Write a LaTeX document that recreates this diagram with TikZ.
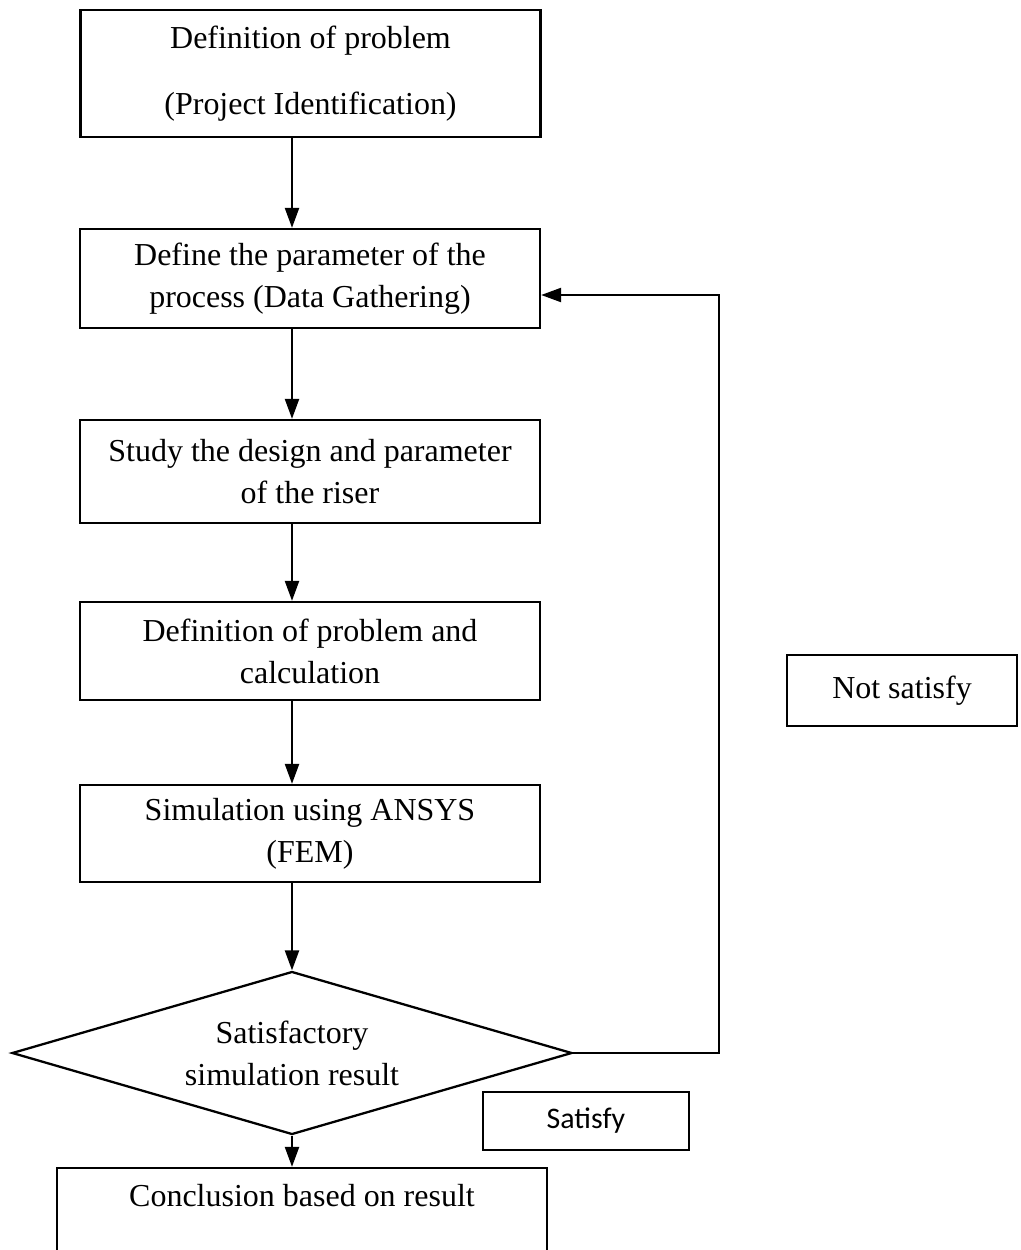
\documentclass[tikz,border=0pt]{standalone}
\usepackage{fontspec}
\setmainfont{Liberation Serif}
\newfontfamily\tagfont{Carlito}
\usetikzlibrary{arrows.meta,shapes.geometric}

\begin{document}
\begin{tikzpicture}[
  font=\fontsize{18.2}{24}\selectfont,
  stepbox/.style={draw,line width=1.3pt,minimum width=9.2cm,align=center,inner sep=2pt},
  choice/.style={draw,diamond,aspect=3.4,line width=1.3pt,minimum width=11.2cm,
                 minimum height=3.26cm,inner sep=0pt,align=center},
  tag/.style={draw,line width=1.3pt,align=center},
  arr/.style={-{Triangle[length=0.4cm,width=0.28cm]},line width=1.3pt}]
  \useasboundingbox (0,0) rectangle (20.42,-25);
  % main column
  \node[stepbox,minimum height=2.54cm] (b1) at (6.21,-1.47)
       {Definition of problem\\[0.48cm](Project Identification)};
  \node[stepbox,minimum height=1.98cm] (b2) at (6.2,-5.57)
       {Define the parameter of the\\process (Data Gathering)};
  \node[stepbox,minimum height=2.06cm] (b3) at (6.2,-9.43)
       {Study the design and parameter\\of the riser};
  \node[stepbox,minimum height=1.96cm] (b4) at (6.2,-13.02)
       {Definition of problem and\\calculation};
  \node[stepbox,minimum height=1.94cm] (b5) at (6.2,-16.67)
       {Simulation using ANSYS\\(FEM)};
  \node[choice] (dec) at (5.84,-21.06) {Satisfactory\\simulation result};
  \node[stepbox,minimum width=9.8cm,minimum height=1.94cm] (res) at (6.04,-24.33)
       {Conclusion based on result\\\mbox{}};
  % labels of the two branches
  \node[tag,minimum width=4.6cm,minimum height=1.42cm] (nok) at (18.04,-13.81) {Not satisfy};
  \node[tag,minimum width=4.12cm,minimum height=1.16cm,font=\tagfont\fontsize{17}{20}\selectfont]
       (ok) at (11.72,-22.42) {Satisfy};
  % arrows
  \draw[arr] (b1.south -| dec.north) -- (b2.north -| dec.north);
  \draw[arr] (b2.south -| dec.north) -- (b3.north -| dec.north);
  \draw[arr] (b3.south -| dec.north) -- (b4.north -| dec.north);
  \draw[arr] (b4.south -| dec.north) -- (b5.north -| dec.north);
  \draw[arr] (b5.south -| dec.north) -- (dec.north);
  \draw[arr] (dec.south) -- (res.north -| dec.south);
  % loop back
  \draw[arr] (dec.east) -- ++(2.92,0) |- ([yshift=-0.33cm]b2.east);
\end{tikzpicture}
\end{document}
